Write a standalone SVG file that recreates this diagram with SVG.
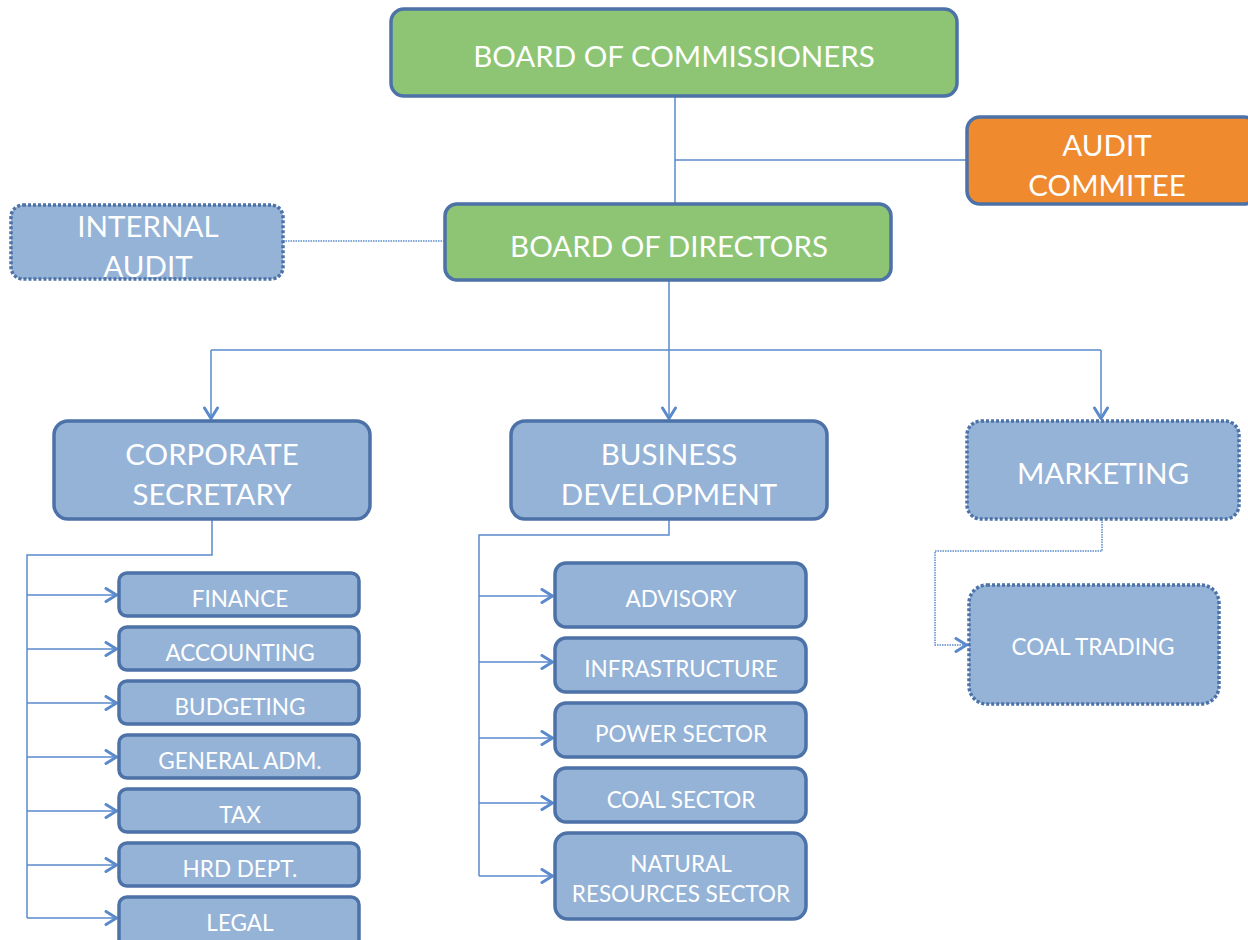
<svg xmlns="http://www.w3.org/2000/svg" width="1248" height="940" viewBox="0 0 1248 940">
<style>
.g{fill:#8DC574;stroke:#4C72A8;stroke-width:3.5}
.o{fill:#F08A2F;stroke:#4C72A8;stroke-width:3.5}
.b{fill:#95B3D7;stroke:#4C72A8;stroke-width:3.5}
.d{fill:#95B3D7;stroke:#4C72A8;stroke-width:3.5;stroke-dasharray:3 2}
text{font-family:Lato,"Open Sans","Liberation Sans",sans-serif;fill:#FFFFFF;text-anchor:middle;dominant-baseline:central}
.t28{font-size:29.5px}
.t22{font-size:22.5px}
.c{fill:none;stroke:#5A8ACB;stroke-width:1.5}
.dl{fill:none;stroke:#5A8ACB;stroke-width:1.5;stroke-dasharray:1.5 1}
</style>
<defs>
<marker id="ah" viewBox="0 0 14 16" refX="13" refY="8" markerWidth="14" markerHeight="16" markerUnits="userSpaceOnUse" orient="auto">
<path d="M2,1.5 L12.5,8 L2,14.5" fill="none" stroke="#5A8ACB" stroke-width="3" stroke-linecap="round" stroke-linejoin="round"/>
</marker>
</defs>
<g id="connectors">
<path class="c" d="M675,96 V204"/>
<path class="c" d="M675,160 H967"/>
<path class="dl" d="M283,241 H445"/>
<path class="c" d="M669,280 V350"/>
<path class="c" d="M211,350 H1101"/>
<path class="c" d="M211,350 V419" marker-end="url(#ah)"/>
<path class="c" d="M669,350 V419" marker-end="url(#ah)"/>
<path class="c" d="M1101,350 V419" marker-end="url(#ah)"/>
<path class="c" d="M212,519 V555 H27 V918"/>
<path class="c" d="M27,595 H117" marker-end="url(#ah)"/>
<path class="c" d="M27,649 H117" marker-end="url(#ah)"/>
<path class="c" d="M27,703 H117" marker-end="url(#ah)"/>
<path class="c" d="M27,757 H117" marker-end="url(#ah)"/>
<path class="c" d="M27,811 H117" marker-end="url(#ah)"/>
<path class="c" d="M27,865 H117" marker-end="url(#ah)"/>
<path class="c" d="M27,918 H117" marker-end="url(#ah)"/>
<path class="c" d="M669,519 V535 H479 V876"/>
<path class="c" d="M479,596 H553" marker-end="url(#ah)"/>
<path class="c" d="M479,662 H553" marker-end="url(#ah)"/>
<path class="c" d="M479,738 H553" marker-end="url(#ah)"/>
<path class="c" d="M479,803 H553" marker-end="url(#ah)"/>
<path class="c" d="M479,876 H553" marker-end="url(#ah)"/>
<path class="dl" d="M1102,519 V551 H935 V645 H967" marker-end="url(#ah)"/>
</g>
<g id="board-commissioners"><rect class="g" x="391" y="9" width="566" height="87" rx="13"/><text class="t28" x="674" y="55">BOARD OF COMMISSIONERS</text></g>
<g id="audit-committee"><rect class="o" x="967" y="117" width="290" height="87" rx="13"/><text class="t28" x="1107" y="144">AUDIT</text><text class="t28" x="1107" y="184">COMMITEE</text></g>
<g id="board-directors"><rect class="g" x="445" y="204" width="446" height="76" rx="12"/><text class="t28" x="669" y="245">BOARD OF DIRECTORS</text></g>
<g id="internal-audit"><rect class="d" x="11" y="205" width="272" height="74" rx="12"/><text class="t28" x="148" y="225">INTERNAL</text><text class="t28" x="148" y="265">AUDIT</text></g>
<g id="corporate-secretary"><rect class="b" x="54" y="421" width="316" height="98" rx="14"/><text class="t28" x="212" y="453">CORPORATE</text><text class="t28" x="212" y="493">SECRETARY</text></g>
<g id="business-development"><rect class="b" x="511" y="421" width="316" height="98" rx="14"/><text class="t28" x="669" y="453">BUSINESS</text><text class="t28" x="669" y="493">DEVELOPMENT</text></g>
<g id="marketing"><rect class="d" x="967" y="421" width="272" height="98" rx="14"/><text class="t28" x="1103" y="472">MARKETING</text></g>
<g id="finance"><rect class="b" x="119" y="573" width="240" height="43" rx="8"/><text class="t22" x="240" y="598">FINANCE</text></g>
<g id="accounting"><rect class="b" x="119" y="627" width="240" height="43" rx="8"/><text class="t22" x="240" y="652">ACCOUNTING</text></g>
<g id="budgeting"><rect class="b" x="119" y="681" width="240" height="43" rx="8"/><text class="t22" x="240" y="706">BUDGETING</text></g>
<g id="general-adm"><rect class="b" x="119" y="735" width="240" height="43" rx="8"/><text class="t22" x="240" y="760">GENERAL ADM.</text></g>
<g id="tax"><rect class="b" x="119" y="789" width="240" height="43" rx="8"/><text class="t22" x="240" y="814">TAX</text></g>
<g id="hrd"><rect class="b" x="119" y="843" width="240" height="43" rx="8"/><text class="t22" x="240" y="868">HRD DEPT.</text></g>
<g id="legal"><rect class="b" x="119" y="897" width="240" height="50" rx="8"/><text class="t22" x="240" y="922">LEGAL</text></g>
<g id="advisory"><rect class="b" x="555" y="563" width="251" height="64" rx="11"/><text class="t22" x="681" y="598">ADVISORY</text></g>
<g id="infrastructure"><rect class="b" x="555" y="638" width="251" height="54" rx="11"/><text class="t22" x="681" y="668">INFRASTRUCTURE</text></g>
<g id="power-sector"><rect class="b" x="555" y="703" width="251" height="54" rx="11"/><text class="t22" x="681" y="733">POWER SECTOR</text></g>
<g id="coal-sector"><rect class="b" x="555" y="768" width="251" height="54" rx="11"/><text class="t22" x="681" y="799">COAL SECTOR</text></g>
<g id="natural-resources"><rect class="b" x="555" y="833" width="251" height="86" rx="13"/><text class="t22" x="681" y="863">NATURAL</text><text class="t22" x="681" y="893">RESOURCES SECTOR</text></g>
<g id="coal-trading"><rect class="d" x="969" y="585" width="250" height="119" rx="18"/><text class="t22" x="1093" y="646">COAL TRADING</text></g>
</svg>
